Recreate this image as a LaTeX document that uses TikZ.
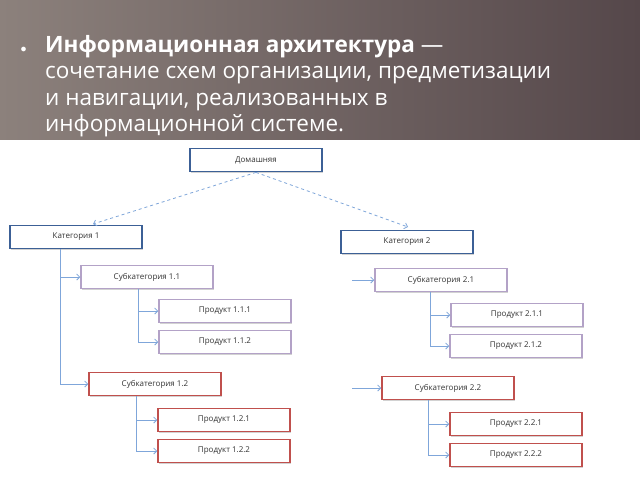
\documentclass[tikz,border=0pt]{standalone}
\usepackage{fontspec}
\setmainfont{Open Sans}
\usetikzlibrary{arrows.meta,shadows}
\definecolor{topblue}{HTML}{3C6096}
\definecolor{lilac}{HTML}{B3A2C7}
\definecolor{redbox}{HTML}{C0504D}
\definecolor{linkblue}{HTML}{7FA6DA}
\definecolor{bgleft}{HTML}{8C817C}
\definecolor{bgright}{HTML}{55474A}
\tikzset{
  box/.style={draw, fill=white, minimum width=132pt, minimum height=23pt, inner sep=0pt,
    font=\fontsize{8}{9}\selectfont, text=black!80, drop shadow={shadow xshift=1.2pt, shadow yshift=-1.2pt, opacity=0.35}},
  catbox/.style={box, draw=topblue, line width=1.8pt},
  subbox/.style={box, draw=lilac, line width=1.5pt},
  redsub/.style={box, draw=redbox, line width=1.5pt},
  link/.style={linkblue, line width=0.8pt, -{Straight Barb[length=3pt,width=6pt]}},
  dlink/.style={link, dashed}
}
\begin{document}
\begin{tikzpicture}[x=1pt,y=-1pt]
    \useasboundingbox (0,0) rectangle (640,480);
    \shade[left color=bgleft, right color=bgright] (0,0) rectangle (640,145);
    % heading
    \node[anchor=base west, text=white, font=\fontsize{12}{14}\selectfont] at (17,52) {$\bullet$};
    \node[anchor=north west, text=white, align=left, inner sep=0pt,
      font=\fontsize{22.5}{26.5}\selectfont] (head) at (45,35)
      {\textbf{Информационная архитектура} —\\ сочетание схем организации, предметизации\\ и навигации, реализованных в\\ информационной системе.};
    \fill[white] (0,140) rectangle (640,480);

    % boxes
    \node[catbox] (home) at (256,160) {Домашняя};
    \node[catbox] (cat1) at (76,237) {Категория 1};
    \node[catbox] (cat2) at (407,242) {Категория 2};
    \node[subbox] (sub11) at (147,277) {Субкатегория 1.1};
    \node[subbox] (p111) at (225,311) {Продукт 1.1.1};
    \node[subbox] (p112) at (225,342) {Продукт 1.1.2};
    \node[redsub] (sub12) at (155,384) {Субкатегория 1.2};
    \node[redsub] (p121) at (224,420) {Продукт 1.2.1};
    \node[redsub] (p122) at (224,451) {Продукт 1.2.2};
    \node[subbox] (sub21) at (441,280) {Субкатегория 2.1};
    \node[subbox] (p211) at (517,315) {Продукт 2.1.1};
    \node[subbox] (p212) at (516,346) {Продукт 2.1.2};
    \node[redsub] (sub22) at (448,388) {Субкатегория 2.2};
    \node[redsub] (p221) at (516,424) {Продукт 2.2.1};
    \node[redsub] (p222) at (516,455) {Продукт 2.2.2};

    % links
    \coordinate (h1) at (93,224);
    \coordinate (h2) at (408,227);
    \draw[dlink] (home.south) -- (h1);
    \draw[dlink] (home.south) -- (h2);
    \draw[link] (cat1.south -| 60,0) |- (sub12.west);
    \draw[link] (60,277) -- (sub11.west);
    \draw[link] (sub11.south -| 138,0) |- (p112.west);
    \draw[link] (138,311) -- (p111.west);
    \draw[link] (sub12.south -| 136,0) |- (p122.west);
    \draw[link] (136,420) -- (p121.west);
    \coordinate (r1) at (352,280);
    \coordinate (r2) at (352,388);
    \draw[link] (r1) -- (sub21.west);
    \draw[link] (r2) -- (sub22.west);
    \draw[link] (sub21.south -| 430,0) |- (p212.west);
    \draw[link] (430,315) -- (p211.west);
    \draw[link] (sub22.south -| 428,0) |- (p222.west);
    \draw[link] (428,424) -- (p221.west);
\end{tikzpicture}
\end{document}
